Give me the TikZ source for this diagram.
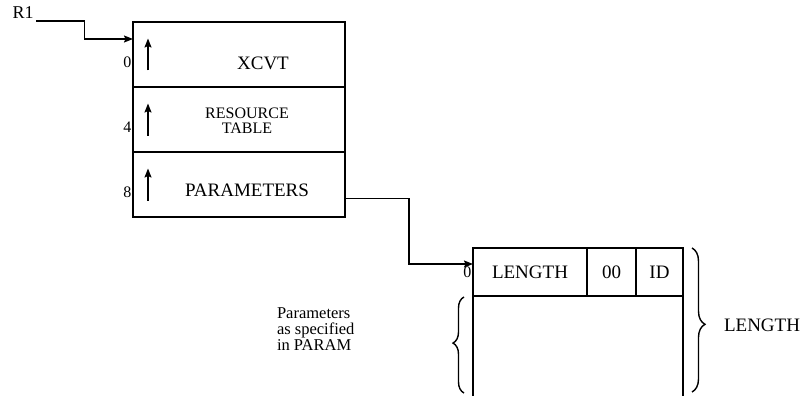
\documentclass[tikz,border=0pt]{standalone}
\usepackage{fontspec}
\setmainfont{Liberation Serif}
\usetikzlibrary{arrows.meta,calc,positioning,decorations.pathreplacing}
\tikzset{
  ptr/.style={-{Stealth[length=9pt,width=7pt,inset=1.5pt]}},
  cell/.style={draw, line width=1.4pt, outer sep=0pt, inner sep=0pt},
  brc/.style={decorate, decoration={brace, amplitude=13pt}},
}

\begin{document}
\begin{tikzpicture}[x=1pt, y=-1pt, line width=1.4pt, font=\fontsize{19}{21}\selectfont]
  \useasboundingbox (0,0) rectangle (804,396);
  \coordinate (btm) at (0,396);
  % control block: three words, top to bottom
  \node[cell, minimum width=212pt, minimum height=65pt, anchor=north west] (xcvt) at (133,22) {};
  \node[cell, minimum width=212pt, minimum height=65pt, below=0pt of xcvt] (rsrc) {};
  \node[cell, minimum width=212pt, minimum height=65pt, below=0pt of rsrc] (parm) {};
  \node (xcvtT) at ($(xcvt.center)+(24,9)$) {XCVT};
  \node[font=\fontsize{16}{15}\selectfont, align=center] (rsrcT) at ($(rsrc.center)+(8,1)$) {RESOURCE\\TABLE};
  \node (parmT) at ($(parm.center)+(8,6)$) {PARAMETERS};
  \foreach \r/\o in {xcvt/0, rsrc/4, parm/8}{
    \node[anchor=east, inner sep=1pt, font=\fontsize{16}{16}\selectfont] (off\o) at ($(\r.west)+(0,8)$) {\o};
    \draw[ptr] ($(\r.west)+(15,16)$) -- ($(\r.west)+(15,-16)$);}
  % register pointer
  \node[anchor=south west, inner sep=2pt, font=\fontsize{18}{18}\selectfont] (r1) at (10,21) {R1};
  \coordinate (xin) at ($(xcvt.north west)+(0,17)$);
  \draw[ptr] (r1.south east) -- ++(48,0) |- (xin);
  % parameter list
  \node[cell, minimum width=114pt, minimum height=48pt, anchor=north west] (len) at (473,248) {LENGTH};
  \node[cell, minimum width=49pt, minimum height=48pt, right=0pt of len] (zero) {00};
  \node[cell, minimum width=47pt, minimum height=48pt, right=0pt of zero] (id) {ID};
  \draw (len.south west) -- (len.south west |- btm);
  \draw (id.south east) -- (id.south east |- btm);
  \node[anchor=east, inner sep=1pt, font=\fontsize{16}{16}\selectfont] (off00) at (len.west) {0};
  \coordinate (pout) at ($(parm.east)+(0,14)$);
  \coordinate (pin) at ($(len.north west)+(0,16)$);
  \draw[ptr] (pout) -- ++(64,0) |- (pin);
  % extents
  \draw[brc, decoration={aspect=0.53}] ($(id.north east)+(9,0)$) -- ($(id.south east |- btm)+(9,-4)$);
  \node[anchor=west] (lenT) at (720,325) {LENGTH};
  \draw[brc, decoration={aspect=0.52, amplitude=11pt}] ($(len.south west |- btm)+(-9,-3)$) -- ($(len.south west)+(-9,1)$);
  \node[anchor=west, align=left, font=\fontsize{16.5}{16}\selectfont] (note) at (273,329) {Parameters\\as specified\\in PARAM};
\end{tikzpicture}
\end{document}
